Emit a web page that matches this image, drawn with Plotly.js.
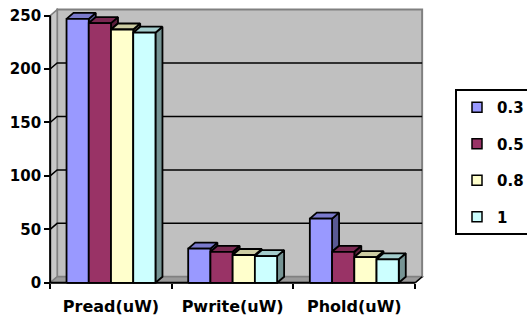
<!DOCTYPE html>
<html>
<head>
<meta charset="utf-8">
<script src="https://cdn.plot.ly/plotly-3.0.1.min.js"></script>
<style>html,body{margin:0;padding:0;background:#fff;}#chart{width:527px;height:320px;}</style>
</head>
<body>
<div id="chart"></div>
<script>
// ---- data ----
const categories = ['Pread(uW)', 'Pwrite(uW)', 'Phold(uW)'];
const seriesNames = ['0.3', '0.5', '0.8', '1'];
const s03 = [247, 32, 60];
const s05 = [243, 29, 29];
const s08 = [237, 26, 24];
const s1  = [234, 25, 22];
const yTicks = [0, 50, 100, 150, 200, 250];

// ---- styling ----
const seriesValues = [s03, s05, s08, s1];
const colors = ['#9999FF', '#993366', '#FFFFCC', '#CCFFFF'];
const W = 527, H = 320;
const x0px = 50, sx = 121.7;   // pixel of front x = -0.5, px per category
const y0px = 283, sy = 1.068;  // pixel of front y = 0, px per unit
const dxu = 7 / sx, dyu = 6 / sy; // 3D depth in data units
const groupW = 0.731;
const yMax = 250;

const xlo = -0.6, xhi = 2.5 + dxu + 0.04;
const ylo = -3, yhi = yMax + dyu + 1.5;
const l = x0px - (-0.5 - xlo) * sx;
const plotW = (xhi - xlo) * sx;
const r = W - l - plotW;
const plotH = (yhi - ylo) * sy;
const b = H - (y0px + (0 - ylo) * sy);
const t = y0px - yhi * sy;

function shade(hex, f) {
  const n = parseInt(hex.slice(1), 16);
  const rr = Math.round(((n >> 16) & 255) * f);
  const gg = Math.round(((n >> 8) & 255) * f);
  const bb = Math.round((n & 255) * f);
  return `rgb(${rr},${gg},${bb})`;
}

const traces = [];
const nS = seriesValues.length;
const bw = groupW / nS;
seriesValues.forEach((vals, i) => {
  const fx = [], fy = [], tx = [], ty = [], sxs = [], sys = [];
  vals.forEach((v, c) => {
    const xa = c - groupW / 2 + i * bw;
    const xb = xa + bw;
    fx.push(xa, xa, xb, xb, xa, null); fy.push(0, v, v, 0, 0, null);
    tx.push(xa, xb, xb + dxu, xa + dxu, xa, null); ty.push(v, v, v + dyu, v + dyu, v, null);
    const bot = i < nS - 1 ? seriesValues[i + 1][c] : 0;
    if (bot < v) {
      sxs.push(xb, xb, xb + dxu, xb + dxu, xb, null);
      sys.push(bot, v, v + dyu, bot + dyu, bot, null);
    }
  });
  const common = {type: 'scatter', mode: 'lines', fill: 'toself', showlegend: false,
    hoverinfo: 'skip', line: {color: '#000', width: 1.8}};
  traces.push(Object.assign({}, common, {x: sxs, y: sys, fillcolor: shade(colors[i], 0.58)}));
  traces.push(Object.assign({}, common, {x: tx, y: ty, fillcolor: shade(colors[i], 0.8)}));
  traces.push(Object.assign({}, common, {x: fx, y: fy, fillcolor: colors[i]}));
});
// legend entries
seriesNames.forEach((nm, i) => {
  traces.push({type: 'scatter', mode: 'markers', x: [null], y: [null], name: nm,
    legendgroup: 'g' + i,
    marker: {symbol: 'square', size: 10, color: colors[i], line: {color: '#000', width: 1.5}}});
});

// walls & grid (decoration)
const xmin = -0.5, xmax = 2.5;
const shapes = [];
shapes.push({type: 'path', layer: 'below', xref: 'x', yref: 'y',
  path: `M${xmin + dxu},${dyu} L${xmax + dxu},${dyu} L${xmax + dxu},${yMax + dyu} L${xmin + dxu},${yMax + dyu} Z`,
  fillcolor: '#C0C0C0', line: {color: '#808080', width: 2}});
shapes.push({type: 'path', layer: 'below', xref: 'x', yref: 'y',
  path: `M${xmin},0 L${xmin + dxu},${dyu} L${xmin + dxu},${yMax + dyu} L${xmin},${yMax} Z`,
  fillcolor: '#C8C8C8', line: {color: '#808080', width: 1.5}});
shapes.push({type: 'path', layer: 'below', xref: 'x', yref: 'y',
  path: `M${xmin},0 L${xmax},0 L${xmax + dxu},${dyu} L${xmin + dxu},${dyu} Z`,
  fillcolor: '#9A9A9A', line: {color: '#808080', width: 1.5}});
yTicks.forEach(v => {
  if (v === 0 || v === yMax) return;
  shapes.push({type: 'path', layer: 'below', xref: 'x', yref: 'y',
    path: `M${xmin},${v} L${xmin + dxu},${v + dyu} L${xmax + dxu},${v + dyu}`,
    line: {color: '#000', width: 1.5}});
});
shapes.push({type: 'line', layer: 'below', xref: 'x', yref: 'y', x0: xmin, x1: xmin, y0: 0, y1: yMax,
  line: {color: '#000', width: 2}});
shapes.push({type: 'line', layer: 'below', xref: 'x', yref: 'y', x0: xmin, x1: xmax, y0: 0, y1: 0,
  line: {color: '#000', width: 2}});
shapes.push({type: 'line', layer: 'below', xref: 'x', yref: 'y', x0: xmax, x1: xmax + dxu, y0: 0, y1: dyu,
  line: {color: '#000', width: 1.5}});

const font = {family: '"DejaVu Sans", sans-serif', size: 15, color: '#000', weight: 'bold'};
const catFont = Object.assign({}, font, {size: 16});

const layout = {
  width: W, height: H,
  margin: {l: l, r: r, t: t, b: b, pad: 0},
  paper_bgcolor: '#fff', plot_bgcolor: 'rgba(0,0,0,0)',
  font: font,
  showlegend: true,
  xaxis: {range: [xlo, xhi], anchor: 'free', position: (0 - ylo) * sy / plotH,
    tickmode: 'array', tickvals: [0, 1, 2], ticktext: categories, ticks: '',
    showgrid: false, zeroline: false, showline: false, fixedrange: true,
    tickfont: catFont, ticklabelstandoff: 12,
    minor: {tickmode: 'array', tickvals: [-0.5, 0.5, 1.5, 2.5], ticks: 'outside', ticklen: 5,
      tickwidth: 2, tickcolor: '#000', showgrid: false}},
  yaxis: {range: [ylo, yhi], anchor: 'free', position: (x0px - l) / plotW,
    tickmode: 'array', tickvals: yTicks,
    ticks: 'outside', ticklen: 6, tickwidth: 2, tickcolor: '#000',
    showgrid: false, zeroline: false, showline: false, fixedrange: true, tickfont: font},
  legend: {xref: 'container', yref: 'container', x: 455 / W, xanchor: 'left', y: 1 - 89 / H, yanchor: 'top',
    bgcolor: '#fff', bordercolor: '#000', borderwidth: 2, font: font,
    traceorder: 'grouped', tracegroupgap: 14},
  shapes: shapes
};

Plotly.newPlot('chart', traces, layout, {staticPlot: true, displayModeBar: false});
</script>
</body>
</html>
